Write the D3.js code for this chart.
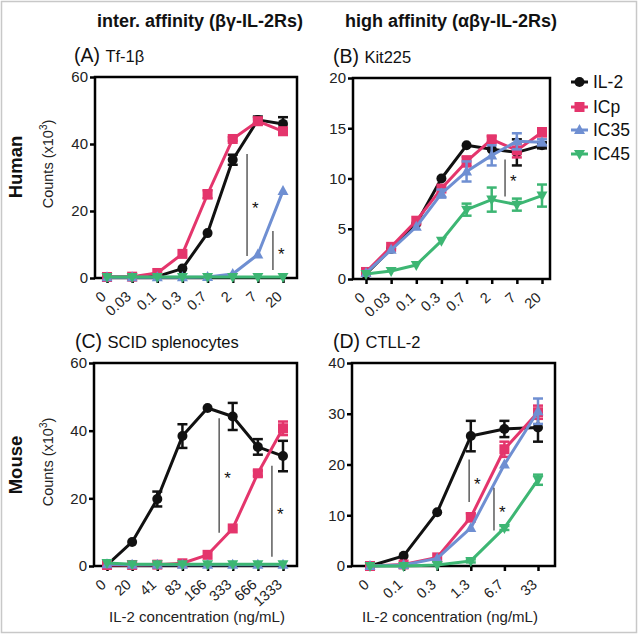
<!DOCTYPE html>
<html><head><meta charset="utf-8">
<script src="https://cdn.jsdelivr.net/npm/d3@7"></script>
<style>
body{margin:0;background:#fff;}
text{font-family:"Liberation Sans",Arial,sans-serif;}
</style></head>
<body><svg id="c" width="640" height="635"></svg>
<script>
// ---------- data ----------
const seriesNames = ["IL-2", "ICp", "IC35", "IC45"];
const seriesColors = ["#111111", "#e4356c", "#6f8fd2", "#3db673"];

// Panel A: Tf-1β (human, intermediate affinity)
const catsA = ["0", "0.03", "0.1", "0.3", "0.7", "2", "7", "20"];
const aIL2 = [0.3, 0.3, 0.5, 2.8, 13.4, 35.3, 47.2, 46];
const aICp = [0.3, 0.4, 1.5, 7.2, 25, 41.5, 46.8, 43.8];
const aIC35 = [0.2, 0.2, 0.2, 0.2, 0.3, 1.2, 7, 26];
const aIC45 = [0.3, 0.3, 0.3, 0.3, 0.3, 0.3, 0.3, 0.3];
const aErrIL2 = [0, 0, 0, 0, 0, 1.5, 1, 2];
const aErrICp = [0, 0, 0, 0, 1.2, 0.5, 1, 1];
const aErrIC35 = [0, 0, 0, 0, 0, 0, 0, 0];
const aErrIC45 = [0, 0, 0, 0, 0, 0, 0, 0];
const ticksA = [0, 20, 40, 60];
const sigA = [[5.57, 37, 6.6], [6.6, 14, 2.4]];

// Panel B: Kit225 (human, high affinity)
const catsB = ["0", "0.03", "0.1", "0.3", "0.7", "2", "7", "20"];
const bIL2 = [0.5, 3, 5.5, 10, 13.3, 12.9, 12.6, 13.3];
const bICp = [0.7, 3.2, 5.8, 9, 11.7, 13.9, 12.8, 14.6];
const bIC35 = [0.6, 2.9, 5.2, 8.5, 10.7, 12.3, 13.7, 13.6];
const bIC45 = [0.5, 0.8, 1.4, 3.8, 6.9, 7.9, 7.4, 8.3];
const bErrIL2 = [0, 0, 0, 0, 0, 0, 1.3, 0.3];
const bErrICp = [0, 0, 0, 0, 0.5, 0.3, 0.7, 0.4];
const bErrIC35 = [0, 0, 0, 0.4, 1, 1, 0.8, 0.3];
const bErrIC45 = [0, 0, 0, 0, 0.6, 1.2, 0.6, 1.1];
const ticksB = [0, 5, 10, 15, 20];
const sigB = [[5.53, 11.9, 8.2]];

// Panel C: SCID splenocytes (mouse, intermediate affinity)
const catsC = ["0", "20", "41", "83", "166", "333", "666", "1333"];
const cIL2 = [0.3, 7.1, 19.8, 38.4, 46.7, 44.2, 35.2, 32.5];
const cICp = [0.3, 0.3, 0.4, 0.8, 3.3, 11.1, 27.4, 40.7];
const cIC35 = [0.5, 0.4, 0.4, 0.4, 0.4, 0.4, 0.4, 0.4];
const cIC45 = [0.9, 0.5, 0.5, 0.5, 0.5, 0.5, 0.5, 0.5];
const cErrIL2 = [0, 0, 2.2, 3.5, 0, 4, 2.3, 4.5];
const cErrICp = [0, 0, 0, 0, 0, 0, 0.8, 2];
const cErrIC35 = [0, 0, 0, 0, 0, 0, 0, 0];
const cErrIC45 = [0, 0, 0, 0, 0, 0, 0, 0];
const ticksC = [0, 20, 40, 60];
const sigC = [[4.46, 43.7, 9.8], [6.56, 29.6, 2.7]];

// Panel D: CTLL-2 (mouse, high affinity)
const catsD = ["0", "0.1", "0.3", "1.3", "6.7", "33"];
const dIL2 = [0, 2, 10.6, 25.6, 27, 27.3];
const dICp = [0, 0.3, 1.7, 9.6, 23, 30.3];
const dIC35 = [0, 0.2, 1.5, 7.5, 20, 30.5];
const dIC45 = [0, 0, 0.2, 1, 7.5, 17];
const dErrIL2 = [0, 0, 0, 3, 1.6, 2.8];
const dErrICp = [0, 0, 0, 0.8, 1.5, 1.3];
const dErrIC35 = [0, 0, 0, 0, 0, 2.5];
const dErrIC45 = [0, 0, 0, 0.3, 0.4, 1];
const ticksD = [0, 10, 20, 30, 40];
const sigD = [[2.95, 21, 12.6], [3.69, 15.4, 7]];

// ---------- drawing ----------
const svg = d3.select("#c");
svg.append("rect").attr("x", 1.5).attr("y", 1.5).attr("width", 635).attr("height", 631)
  .attr("fill", "none").attr("stroke", "#c8c8c8").attr("stroke-width", 1.5);

function drawPanel(p) {
  const g = svg.append("g");
  const x = d3.scalePoint().domain(p.cats).range([p.left + p.padL, p.right - p.padR]);
  const y = d3.scaleLinear().domain([0, p.ymax]).range([p.bottom, p.top]);
  const xi = i => x(p.cats[0]) + i * x.step();

  // frame
  g.append("rect").attr("x", p.left).attr("y", p.top)
    .attr("width", p.right - p.left).attr("height", p.bottom - p.top)
    .attr("fill", "none").attr("stroke", "#000").attr("stroke-width", 2.5);

  // y axis
  const ya = g.append("g").attr("transform", `translate(${p.left},0)`)
    .call(d3.axisLeft(y).tickValues(p.ticks).tickSize(5).tickPadding(2).tickFormat(d3.format("d")));
  ya.select(".domain").remove();
  ya.selectAll(".tick line").attr("stroke-width", 2.5);
  ya.selectAll("text").attr("font-size", 15).attr("fill", "#222");

  // x axis
  const xa = g.append("g").attr("transform", `translate(0,${p.bottom})`)
    .call(d3.axisBottom(x).tickSize(5).tickPadding(3));
  xa.select(".domain").remove();
  xa.selectAll(".tick line").attr("stroke-width", 2.5);
  xa.selectAll("text").attr("font-size", 14.5).attr("fill", "#222")
    .attr("text-anchor", "end").attr("dy", "0.35em")
    .attr("transform", "translate(-4,16) rotate(-42)").attr("x", 0).attr("y", 0);

  // series
  const line = d3.line().x((d, i) => x(p.cats[i])).y(d => y(d));
  p.series.forEach((vals, si) => {
    const col = seriesColors[si];
    const errs = p.errs[si];
    const sg = g.append("g");
    vals.forEach((v, i) => {
      const e = errs[i];
      if (!e) return;
      const cx = x(p.cats[i]);
      sg.append("line").attr("x1", cx).attr("x2", cx).attr("y1", y(v - e)).attr("y2", y(v + e))
        .attr("stroke", col).attr("stroke-width", 2.5);
      [v - e, v + e].forEach(ev => sg.append("line").attr("x1", cx - 5).attr("x2", cx + 5)
        .attr("y1", y(ev)).attr("y2", y(ev)).attr("stroke", col).attr("stroke-width", 2.5));
    });
    sg.append("path").attr("d", line(vals)).attr("fill", "none").attr("stroke", col)
      .attr("stroke-width", 3).attr("stroke-linejoin", "round");
    vals.forEach((v, i) => drawMarker(sg, si, x(p.cats[i]), y(v)));
  });

  // significance markers
  p.sig.forEach(s => {
    const sx = xi(s[0]);
    g.append("line").attr("x1", sx).attr("x2", sx).attr("y1", y(s[1])).attr("y2", y(s[2]))
      .attr("stroke", "#333").attr("stroke-width", 1.2);
    g.append("text").attr("x", sx + 5).attr("y", (y(s[1]) + y(s[2])) / 2 + 9)
      .attr("font-size", 17).attr("fill", "#111").text("*");
  });

  // panel title
  const t = g.append("text").attr("x", p.titleX).attr("y", p.top - 15).attr("fill", "#111");
  t.append("tspan").attr("font-size", 19.5).text(p.letter + " ");
  t.append("tspan").attr("font-size", 16.5).text(p.name);
}

function drawMarker(g, si, cx, cy) {
  const col = seriesColors[si];
  if (si === 0) g.append("circle").attr("cx", cx).attr("cy", cy).attr("r", 5).attr("fill", col);
  else if (si === 1) g.append("rect").attr("x", cx - 5).attr("y", cy - 5).attr("width", 10).attr("height", 10).attr("fill", col);
  else if (si === 2) g.append("path").attr("d", `M${cx},${cy - 6}L${cx + 5.5},${cy + 4}L${cx - 5.5},${cy + 4}Z`).attr("fill", col);
  else g.append("path").attr("d", `M${cx},${cy + 6}L${cx + 5.5},${cy - 4}L${cx - 5.5},${cy - 4}Z`).attr("fill", col);
}

drawPanel({cats: catsA, ymax: 60, ticks: ticksA, left: 95, right: 297, top: 77, bottom: 278, padL: 12, padR: 14,
  series: [aIL2, aICp, aIC35, aIC45], errs: [aErrIL2, aErrICp, aErrIC35, aErrIC45], sig: sigA,
  letter: "(A)", name: "Tf-1β", titleX: 74});
drawPanel({cats: catsB, ymax: 20, ticks: ticksB, left: 353, right: 550, top: 78, bottom: 279, padL: 13, padR: 8,
  series: [bIL2, bICp, bIC35, bIC45], errs: [bErrIL2, bErrICp, bErrIC35, bErrIC45], sig: sigB,
  letter: "(B)", name: "Kit225", titleX: 333});
drawPanel({cats: catsC, ymax: 60, ticks: ticksC, left: 94, right: 297, top: 363, bottom: 566, padL: 13, padR: 14,
  series: [cIL2, cICp, cIC35, cIC45], errs: [cErrIL2, cErrICp, cErrIC35, cErrIC45], sig: sigC,
  letter: "(C)", name: "SCID splenocytes", titleX: 75});
drawPanel({cats: catsD, ymax: 40, ticks: ticksD, left: 352, right: 555, top: 363, bottom: 566, padL: 18, padR: 17,
  series: [dIL2, dICp, dIC35, dIC45], errs: [dErrIL2, dErrICp, dErrIC35, dErrIC45], sig: sigD,
  letter: "(D)", name: "CTLL-2", titleX: 333});

// column headers
svg.append("text").attr("x", 200).attr("y", 27).attr("text-anchor", "middle")
  .attr("font-size", 18).attr("font-weight", "bold").attr("fill", "#111").text("inter. affinity (βγ-IL-2Rs)");
svg.append("text").attr("x", 451).attr("y", 27).attr("text-anchor", "middle")
  .attr("font-size", 18).attr("font-weight", "bold").attr("fill", "#111").text("high affinity (αβγ-IL-2Rs)");

// row labels
[["Human", 167], ["Mouse", 465]].forEach(([lab, cy]) => {
  svg.append("text").attr("transform", `translate(22,${cy}) rotate(-90)`).attr("text-anchor", "middle")
    .attr("font-size", 18.5).attr("font-weight", "bold").attr("fill", "#111").text(lab);
  const t = svg.append("text").attr("transform", `translate(53,${cy - 3}) rotate(-90)`).attr("text-anchor", "middle")
    .attr("font-size", 14.5).attr("fill", "#222");
  t.append("tspan").text("Counts (x10");
  t.append("tspan").attr("font-size", 10).attr("dy", -6).text("3");
  t.append("tspan").attr("dy", 6).text(")");
});

// x axis titles
[197, 450].forEach(cx => svg.append("text").attr("x", cx).attr("y", 622).attr("text-anchor", "middle")
  .attr("font-size", 15).attr("fill", "#222").text("IL-2 concentration (ng/mL)"));

// legend
const lg = svg.append("g");
seriesNames.forEach((n, i) => {
  const ly = [82, 107, 130, 154][i];
  lg.append("line").attr("x1", 571).attr("x2", 588).attr("y1", ly).attr("y2", ly)
    .attr("stroke", seriesColors[i]).attr("stroke-width", 3);
  drawMarker(lg, i, 579.5, ly);
  lg.append("text").attr("x", 593).attr("y", ly + 6).attr("font-size", 17.5).attr("fill", "#111").text(n);
});
</script></body></html>
